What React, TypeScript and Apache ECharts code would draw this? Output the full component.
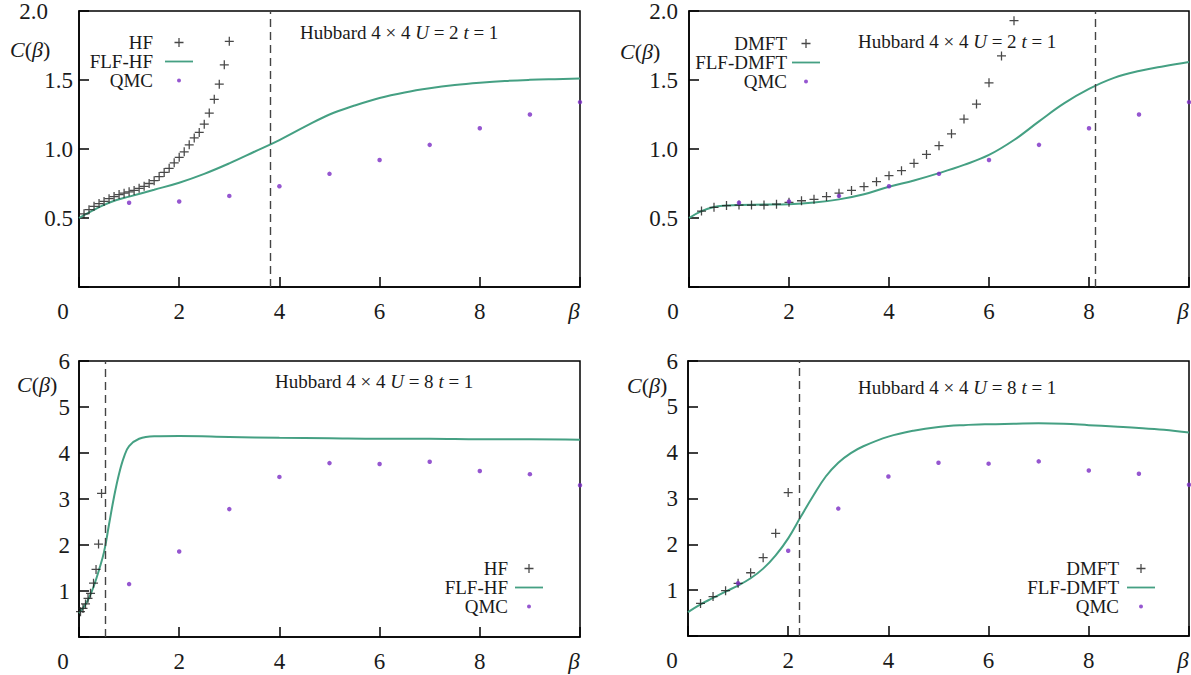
import React, { useEffect, useRef } from "react";
import * as echarts from "echarts";

const FONT = "'Liberation Serif', 'DejaVu Serif', 'Times New Roman', serif";
const TEAL = "#45a083";
const PURPLE = "#7a2cc4";
const INK = "#1a1a1a";

// ---------- data ----------
const qmcBeta = [1, 2, 3, 4, 5, 6, 7, 8, 9, 10];
const qmcU2 = [0.61, 0.62, 0.66, 0.73, 0.82, 0.92, 1.03, 1.15, 1.25, 1.34];
const qmcU8 = [1.15, 1.86, 2.78, 3.48, 3.78, 3.76, 3.81, 3.61, 3.54, 3.3];

const hfU2Beta = [0.1, 0.2, 0.3, 0.4, 0.5, 0.6, 0.7, 0.8, 0.9, 1.0, 1.1, 1.2, 1.3, 1.4, 1.5, 1.6, 1.7, 1.8, 1.9, 2.0, 2.1, 2.2, 2.3, 2.4, 2.5, 2.6, 2.7, 2.8, 2.9, 3.0];
const hfU2 = [0.53, 0.56, 0.585, 0.605, 0.62, 0.64, 0.655, 0.67, 0.68, 0.69, 0.7, 0.715, 0.73, 0.75, 0.77, 0.8, 0.83, 0.86, 0.9, 0.94, 0.98, 1.03, 1.08, 1.12, 1.18, 1.26, 1.36, 1.47, 1.61, 1.78];

const flfHfU2Beta = [0, 0.25, 0.5, 0.75, 1, 1.5, 2, 2.5, 3, 3.5, 4, 4.5, 5, 5.5, 6, 6.5, 7, 7.5, 8, 8.5, 9, 9.5, 10];
const flfHfU2 = [0.5, 0.55, 0.595, 0.63, 0.655, 0.705, 0.756, 0.82, 0.896, 0.98, 1.065, 1.16, 1.25, 1.315, 1.37, 1.41, 1.44, 1.463, 1.48, 1.493, 1.501, 1.506, 1.51];

const dmftU2Beta = [0.25, 0.5, 0.75, 1.0, 1.25, 1.5, 1.75, 2.0, 2.25, 2.5, 2.75, 3.0, 3.25, 3.5, 3.75, 4.0, 4.25, 4.5, 4.75, 5.0, 5.25, 5.5, 5.75, 6.0, 6.25, 6.5];
const dmftU2 = [0.55, 0.577, 0.59, 0.594, 0.594, 0.594, 0.6, 0.614, 0.625, 0.635, 0.655, 0.68, 0.7, 0.727, 0.763, 0.807, 0.843, 0.896, 0.961, 1.024, 1.11, 1.217, 1.326, 1.48, 1.674, 1.93];

const flfDmftU2Beta = [0, 0.25, 0.5, 0.75, 1, 1.5, 2, 2.5, 3, 3.5, 4, 4.5, 5, 5.5, 6, 6.5, 7, 7.5, 8, 8.5, 9, 9.5, 10];
const flfDmftU2 = [0.5, 0.55, 0.58, 0.59, 0.595, 0.597, 0.6, 0.612, 0.635, 0.672, 0.727, 0.772, 0.825, 0.885, 0.957, 1.065, 1.2, 1.33, 1.435, 1.515, 1.565, 1.6, 1.63];

const hfU8Beta = [0.03, 0.08, 0.13, 0.18, 0.23, 0.29, 0.34, 0.39, 0.45];
const hfU8 = [0.55, 0.62, 0.72, 0.84, 0.95, 1.17, 1.47, 2.02, 3.12];

const flfHfU8Beta = [0, 0.1, 0.2, 0.3, 0.4, 0.5, 0.6, 0.7, 0.8, 0.9, 1.0, 1.2, 1.5, 2, 3, 4, 5, 6, 7, 8, 9, 10];
const flfHfU8 = [0.52, 0.66, 0.85, 1.12, 1.46, 1.85, 2.45, 3.05, 3.55, 3.92, 4.15, 4.31, 4.365, 4.37, 4.35, 4.33, 4.32, 4.31, 4.31, 4.3, 4.3, 4.29];

const dmftU8Beta = [0.25, 0.5, 0.75, 1.0, 1.25, 1.5, 1.75, 2.0];
const dmftU8 = [0.71, 0.86, 0.99, 1.15, 1.38, 1.71, 2.24, 3.13];

const flfDmftU8Beta = [0, 0.25, 0.5, 0.75, 1, 1.25, 1.5, 1.75, 2, 2.25, 2.5, 2.75, 3, 3.25, 3.5, 4, 4.5, 5, 5.5, 6, 6.5, 7, 7.5, 8, 8.5, 9, 9.5, 10];
const flfDmftU8 = [0.52, 0.69, 0.83, 0.97, 1.1, 1.26, 1.47, 1.76, 2.13, 2.6, 3.06, 3.48, 3.78, 3.99, 4.14, 4.35, 4.48, 4.56, 4.6, 4.62, 4.63, 4.64, 4.63, 4.6, 4.57, 4.54, 4.5, 4.44];

const cutoffs = [3.82, 8.12, 0.53, 2.23];
const titles = ["Hubbard 4 × 4 {i|U} = 2 {i|t} = 1", "Hubbard 4 × 4 {i|U} = 2 {i|t} = 1", "Hubbard 4 × 4 {i|U} = 8 {i|t} = 1", "Hubbard 4 × 4 {i|U} = 8 {i|t} = 1"];

const zip = (xs: number[], ys: number[]) => xs.map((x, i) => [x, ys[i]]);

const PLUS = "path://M4.3,0H5.7V4.3H10V5.7H5.7V10H4.3V5.7H0V4.3H4.3Z";
const DOT_ICON = "path://M0,0M10,10M2.8,5A2.2,2.2,0,1,0,7.2,5A2.2,2.2,0,1,0,2.8,5Z";
const LINE_ICON = "path://M0,0H28V1.8H0Z";

const panels = [
  { grid: { left: 79, top: 11, width: 501, height: 276 }, method: "HF", mx: hfU2Beta, my: hfU2, fx: flfHfU2Beta, fy: flfHfU2, qy: qmcU2, yMax: 2, yStep: 0.5, digits: 1, yMargin: 6, topPad: 25, lg: { right: 998, top: 33, lh: 16, pad: 7 }, tt: { left: 300, top: 23 }, cb: { x: 10, y: 49 } },
  { grid: { left: 689, top: 11, width: 500, height: 276 }, method: "DMFT", mx: dmftU2Beta, my: dmftU2, fx: flfDmftU2Beta, fy: flfDmftU2, qy: qmcU2, yMax: 2, yStep: 0.5, digits: 1, yMargin: 11, topPad: 0, lg: { right: 371, top: 34, lh: 16, pad: 0 }, tt: { left: 858, top: 32 }, cb: { x: 620, y: 51 } },
  { grid: { left: 79, top: 361, width: 501, height: 276 }, method: "HF", mx: hfU8Beta, my: hfU8, fx: flfHfU8Beta, fy: flfHfU8, qy: qmcU8, yMax: 6, yStep: 1, digits: 0, yMargin: 9, topPad: 0, lg: { right: 648, top: 559, lh: 18.5, pad: 2 }, tt: { left: 275, top: 372 }, cb: { x: 17, y: 384 } },
  { grid: { left: 688, top: 361, width: 501, height: 275 }, method: "DMFT", mx: dmftU8Beta, my: dmftU8, fx: flfDmftU8Beta, fy: flfDmftU8, qy: qmcU8, yMax: 6, yStep: 1, digits: 0, yMargin: 10, topPad: 0, lg: { right: 36, top: 559, lh: 18.5, pad: 3 }, tt: { left: 858, top: 378 }, cb: { x: 627, y: 385 } },
];

function buildOption() {
  const grid: any[] = [];
  const xAxis: any[] = [];
  const yAxis: any[] = [];
  const series: any[] = [];
  const legend: any[] = [];
  const title: any[] = [];
  const graphic: any[] = [];

  panels.forEach((p, i) => {
    grid.push({ ...p.grid, show: true, borderColor: "#000", borderWidth: 1.5, backgroundColor: "transparent", containLabel: false, outerBoundsMode: "none" });
    xAxis.push({
      type: "value", gridIndex: i, min: 0, max: 10, interval: 2,
      axisLine: { show: true, lineStyle: { color: "#000", width: 1.5 } },
      axisTick: { show: true, inside: true, length: 10, lineStyle: { color: "#000", width: 1.5 } },
      splitLine: { show: false },
      axisLabel: {
        margin: 13, color: INK, fontFamily: FONT, fontSize: 23,
        formatter: (v: number) => (v === 0 ? "{z|0}" : v === 10 ? "{b|β}" : String(v)),
        rich: {
          z: { padding: [0, 32, 0, 0], fontFamily: FONT, fontSize: 23, color: INK },
          b: { padding: [0, 12, 0, 0], fontFamily: FONT, fontSize: 23, fontStyle: "italic", color: INK },
        },
      },
    });
    yAxis.push({
      type: "value", gridIndex: i, min: 0, max: p.yMax, interval: p.yStep,
      axisLine: { show: true, lineStyle: { color: "#000", width: 1.5 } },
      axisTick: { show: true, inside: true, length: 10, lineStyle: { color: "#000", width: 1.5 } },
      splitLine: { show: false },
      axisLabel: {
        margin: p.yMargin, color: INK, fontFamily: FONT, fontSize: 23,
        formatter: (v: number) => {
          if (v === 0) return "";
          const s = v.toFixed(p.digits);
          return v === p.yMax && p.topPad ? "{t|" + s + "}" : s;
        },
        rich: { t: { padding: [0, p.topPad, 0, 0], fontFamily: FONT, fontSize: 23, color: INK } },
      },
    });
    series.push({
      type: "line", name: "FLF-" + p.method, xAxisIndex: i, yAxisIndex: i,
      data: zip(p.fx, p.fy), symbol: "none", smooth: 0.4,
      lineStyle: { color: TEAL, width: 2 }, itemStyle: { color: TEAL }, z: 2,
      markLine: {
        silent: true, symbol: ["none", "none"], label: { show: false },
        lineStyle: { type: [8, 5], color: "#444", width: 1.4 },
        data: [{ xAxis: cutoffs[i] }],
      },
    });
    series.push({
      type: "scatter", name: p.method, xAxisIndex: i, yAxisIndex: i,
      data: zip(p.mx, p.my), symbol: PLUS, symbolSize: 9, symbolKeepAspect: true,
      itemStyle: { color: INK }, z: 3,
    });
    series.push({
      type: "scatter", name: "QMC", xAxisIndex: i, yAxisIndex: i,
      data: zip(qmcBeta, p.qy), symbol: "circle", symbolSize: 4.5,
      itemStyle: { color: PURPLE }, z: 4,
    });
    legend.push({
      orient: "vertical", right: p.lg.right, top: p.lg.top, align: "right",
      itemWidth: 28, itemHeight: 9, itemGap: 0, padding: 0, selectedMode: false,
      textStyle: { fontFamily: FONT, fontSize: 19, color: INK, lineHeight: p.lg.lh, padding: [0, p.lg.pad, 0, 0] },
      data: [
        { name: p.method },
        { name: "FLF-" + p.method, icon: LINE_ICON, itemStyle: { color: TEAL, borderWidth: 0 } },
        { name: "QMC", icon: DOT_ICON },
      ],
    });
    title.push({
      text: titles[i], left: p.tt.left, top: p.tt.top, padding: 0,
      textStyle: {
        fontFamily: FONT, fontSize: 19, fontWeight: "normal", color: INK,
        rich: { i: { fontFamily: FONT, fontSize: 19, fontStyle: "italic", color: INK } },
      },
    });
    graphic.push({
      type: "text", x: p.cb.x, y: p.cb.y,
      style: {
        text: "{i|C}({i|β})", fill: INK, fontFamily: FONT, fontSize: 22, align: "left", verticalAlign: "middle",
        rich: { i: { fontFamily: FONT, fontSize: 22, fontStyle: "italic", fill: INK } },
      },
    });
  });

  return { animation: false, backgroundColor: "#fff", grid, xAxis, yAxis, series, legend, title, graphic };
}

export default function App() {
  const ref = useRef<HTMLDivElement>(null);
  useEffect(() => {
    if (!ref.current) return;
    const chart = echarts.init(ref.current, undefined, { renderer: "svg" });
    chart.setOption(buildOption() as any);
    return () => chart.dispose();
  }, []);
  return <div ref={ref} style={{ position: "fixed", left: 0, top: 0, width: 1191, height: 675 }} />;
}
